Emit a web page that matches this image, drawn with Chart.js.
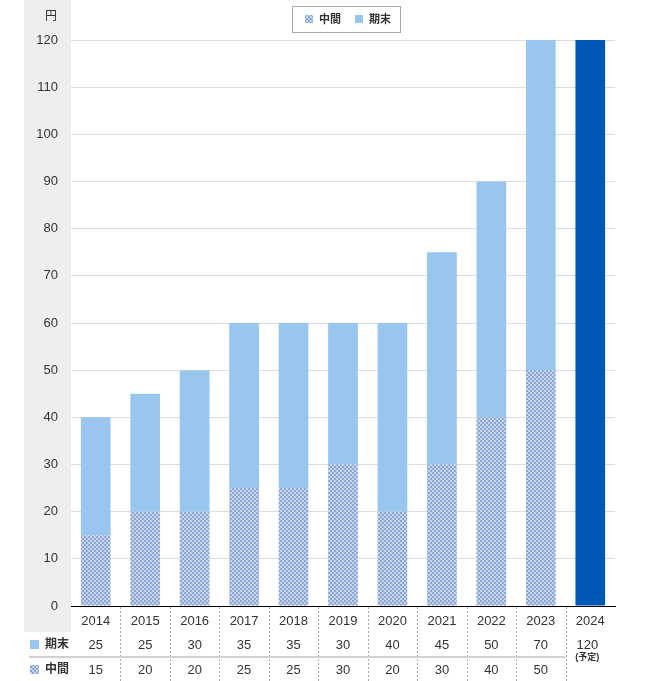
<!DOCTYPE html>
<html>
<head>
<meta charset="utf-8">
<script src="https://cdn.jsdelivr.net/npm/chart.js@4.4.1/dist/chart.umd.min.js"></script>
<style>
  html, body { margin: 0; padding: 0; background: #fff; }
  #wrap { width: 649px; height: 681px; position: relative; }
</style>
</head>
<body>
<div id="wrap"><canvas id="chart"></canvas></div>
<script>
// 配当データ（円）
const years = ['2014', '2015', '2016', '2017', '2018', '2019', '2020', '2021', '2022', '2023', '2024'];
const interim = [15, 20, 20, 25, 25, 30, 20, 30, 40, 50, null];
const yearEnd = [25, 25, 30, 35, 35, 30, 40, 45, 50, 70, null];
const planned = [null, null, null, null, null, null, null, null, null, null, 120];
const yTicks = [0, 10, 20, 30, 40, 50, 60, 70, 80, 90, 100, 110, 120];

const FONT = '"Liberation Sans", "Noto Sans CJK JP", sans-serif';
const TEXT = '#333';

// 中間配当用のチェック柄
function makePattern() {
    const c = document.createElement('canvas');
    c.width = 4; c.height = 4;
    const g = c.getContext('2d');
    g.fillStyle = '#c6d5ee';
    g.fillRect(0, 0, 4, 4);
    g.fillStyle = '#8ca5d2';
    g.fillRect(0, 0, 2, 2);
    g.fillRect(2, 2, 2, 2);
    return g.createPattern(c, 'repeat');
}
const pattern = makePattern();

// 背景の灰色の帯、凡例、下の表
const extras = {
    id: 'extras',
    beforeDraw(chart) {
        const ctx = chart.ctx;
        const area = chart.chartArea;
        ctx.save();
        ctx.fillStyle = '#eeeeee';
        ctx.fillRect(24, 0, area.left - 24, 632);
        ctx.fillStyle = TEXT;
        ctx.font = '12px ' + FONT;
        ctx.textAlign = 'center';
        ctx.textBaseline = 'middle';
        ctx.fillText('円', 51, 17);
        ctx.restore();
    },
    afterDraw(chart) {
        const ctx = chart.ctx;
        const area = chart.chartArea;
        const x = chart.scales.x;
        const ds = chart.data.datasets;
        ctx.save();

        // 凡例
        const lx = 292, ly = 6, lw = 108, lh = 26;
        ctx.strokeStyle = '#aaa';
        ctx.lineWidth = 1;
        ctx.strokeRect(lx + 0.5, ly + 0.5, lw, lh);
        ctx.font = 'bold 11px ' + FONT;
        ctx.textBaseline = 'middle';
        ctx.textAlign = 'left';
        ctx.fillStyle = ds[0].backgroundColor;
        ctx.fillRect(305, 15, 8, 8);
        ctx.fillStyle = TEXT;
        ctx.fillText(ds[0].label, 319, 19.5);
        ctx.fillStyle = ds[1].backgroundColor;
        ctx.fillRect(355, 15, 8, 8);
        ctx.fillStyle = TEXT;
        ctx.fillText(ds[1].label, 369, 19.5);

        // 表の区切り線
        ctx.strokeStyle = '#aaa';
        ctx.setLineDash([2, 2]);
        for (let i = 1; i < years.length; i++) {
            const bx = Math.round((x.getPixelForValue(i - 1) + x.getPixelForValue(i)) / 2) + 0.5;
            ctx.beginPath();
            ctx.moveTo(bx, area.bottom + 1);
            ctx.lineTo(bx, 681);
            ctx.stroke();
        }
        ctx.setLineDash([]);
        const lastEdge = (x.getPixelForValue(years.length - 2) + x.getPixelForValue(years.length - 1)) / 2;
        ctx.strokeStyle = '#d0d0d0';
        ctx.lineWidth = 2;
        ctx.beginPath();
        ctx.moveTo(29, 657);
        ctx.lineTo(lastEdge, 657);
        ctx.stroke();

        // 行見出し
        ctx.fillStyle = ds[1].backgroundColor;
        ctx.fillRect(30, 640, 9, 9);
        ctx.fillStyle = ds[0].backgroundColor;
        ctx.fillRect(30, 665, 9, 9);
        ctx.fillStyle = TEXT;
        ctx.font = 'bold 12px ' + FONT;
        ctx.textAlign = 'left';
        ctx.fillText(ds[1].label, 45, 645);
        ctx.fillText(ds[0].label, 45, 670);

        // 値
        ctx.textAlign = 'center';
        ctx.font = '13px ' + FONT;
        years.forEach((y, i) => {
            const cx = x.getPixelForValue(i);
            if (planned[i] != null) {
                ctx.font = '13px ' + FONT;
                ctx.fillText(String(planned[i]), cx - 3, 645);
                ctx.font = 'bold 9px ' + FONT;
                ctx.fillText('(予定)', cx - 3, 658);
                ctx.font = '13px ' + FONT;
                return;
            }
            ctx.fillText(String(yearEnd[i]), cx, 645);
            ctx.fillText(String(interim[i]), cx, 670);
        });
        ctx.restore();
    }
};

new Chart(document.getElementById('chart'), {
    type: 'bar',
    data: {
        labels: years,
        datasets: [
            { label: '中間', data: interim, backgroundColor: pattern },
            { label: '期末', data: yearEnd, backgroundColor: '#98c6ee' },
            { label: '予定', data: planned, backgroundColor: '#0058b4' }
        ]
    },
    options: {
        responsive: true,
        maintainAspectRatio: false,
        animation: false,
        layout: { padding: { left: 24, right: 34, top: 40, bottom: 48 } },
        datasets: { bar: { barPercentage: 0.6, categoryPercentage: 1, borderWidth: 0 } },
        plugins: {
            legend: { display: false },
            tooltip: { enabled: false }
        },
        scales: {
            x: {
                stacked: true,
                grid: { display: false, drawTicks: false },
                border: { display: true, color: '#000', width: 1 },
                ticks: { color: TEXT, font: { family: FONT, size: 13 }, padding: 8, maxRotation: 0 },
                afterFit(scale) { scale.height = 27; }
            },
            y: {
                stacked: true,
                min: 0,
                max: 120,
                afterBuildTicks(scale) { scale.ticks = yTicks.map(v => ({ value: v })); },
                grid: {
                    drawTicks: false,
                    color: ctx => ctx.tick && ctx.tick.value === 0 ? 'rgba(0,0,0,0)' : '#dddddd'
                },
                border: { display: false },
                ticks: { color: TEXT, font: { family: FONT, size: 13 }, padding: 13 },
                afterFit(scale) { scale.width = 47; }
            }
        }
    },
    plugins: [extras]
});
</script>
</body>
</html>
